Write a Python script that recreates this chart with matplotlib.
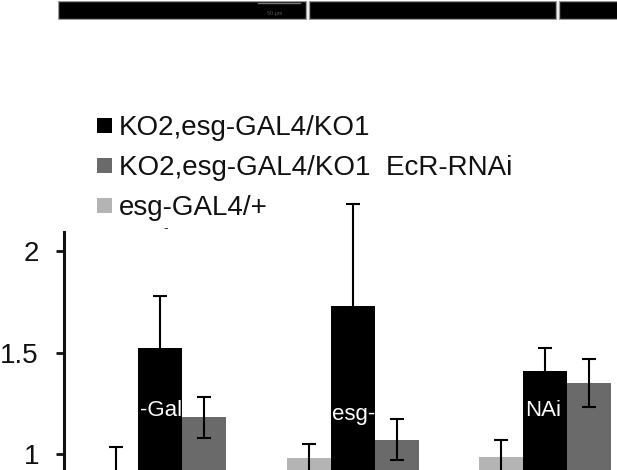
import numpy as np
import matplotlib
matplotlib.use("Agg")
import matplotlib.pyplot as plt
from matplotlib.patches import Rectangle

plt.rcParams["font.family"] = ["Liberation Sans", "DejaVu Sans"]

# ---------------------------------------------------------------------------
# Data
# ---------------------------------------------------------------------------
series_labels = ["KO2,esg-GAL4/KO1", "KO2,esg-GAL4/KO1  EcR-RNAi", "esg-GAL4/+"]
series_colors = ["#000000", "#6a6a6a", "#b4b4b4"]

# groups left -> right; light bar of the first group sits below the visible area
light_vals = [0.90, 0.98, 0.985]
light_err = [0.135, 0.07, 0.085]
black_vals = [1.52, 1.73, 1.41]
black_err = [0.26, 0.50, 0.11]
gray_vals = [1.18, 1.07, 1.35]
gray_err = [0.10, 0.10, 0.12]

overlay_text = ["-Gal", "esg-", "NAi"]
yticks = [1, 1.5, 2]
ytick_labels = ["1", "1.5", "2"]

W, H = 617, 470
fig = plt.figure(figsize=(W / 100, H / 100), dpi=100)

# ---------------------------------------------------------------------------
# Strip of image panels at the top (bottom edge of micrographs)
# ---------------------------------------------------------------------------
strip = fig.add_axes([58 / W, 1 - 20 / H, (W - 58) / W, 19 / H])
strip.set_xlim(58, W)
strip.set_ylim(0, 19)
strip.axis("off")
for x0, x1 in [(58, 306), (309, 556), (559, 640)]:
    strip.add_patch(Rectangle((x0, 1), x1 - x0, 18, facecolor="black",
                              edgecolor="#9a9a9a", linewidth=1))
strip.text(275, 7, "50 µm", color="#555555", fontsize=4, ha="center", va="center")
strip.plot([258, 300], [17, 17], color="#777777", linewidth=1)

# ---------------------------------------------------------------------------
# Bar chart
# ---------------------------------------------------------------------------
top_px, axis_x = 232, 64
ax = fig.add_axes([axis_x / W, 0, (W - axis_x) / W, (H - top_px) / H])
ax.patch.set_alpha(0)

px_per_unit = 203.0
y_at_1 = 454
ax.set_ylim(1 - (H - y_at_1) / px_per_unit, 1 + (y_at_1 - top_px) / px_per_unit)

spacing = 192.5
centers_px = [160, 352.5, 545]
x = np.arange(len(black_vals))
ax.set_xlim((axis_x - centers_px[0]) / spacing, (W - centers_px[0]) / spacing)
width = 44 / spacing

err_kw = dict(ecolor="#000000", elinewidth=1.5, capsize=5, capthick=1.5)
containers = [
    ax.bar(x - width, light_vals, width, color=series_colors[2], yerr=light_err,
           error_kw=err_kw, zorder=2),
    ax.bar(x, black_vals, width, color=series_colors[0], yerr=black_err,
           error_kw=err_kw, zorder=2),
    ax.bar(x + width, gray_vals, width, color=series_colors[1], yerr=gray_err,
           error_kw=err_kw, zorder=2),
]
# error bars run past the top of the axis in the original
for bc in containers:
    data_line, caplines, barcols = bc.errorbar.lines
    for art in list(caplines) + list(barcols):
        art.set_clip_on(False)

# white fragments of text that show up only over the dark bars
for i, txt in enumerate(overlay_text):
    ax.text(x[i] - width / 2 + 0.01, 1.215 if i != 1 else 1.195, txt,
            color="white", fontsize=16, ha="left", va="center", zorder=3)

for side in ["top", "right", "bottom"]:
    ax.spines[side].set_visible(False)
ax.spines["left"].set_linewidth(2.2)
ax.spines["left"].set_color("#111111")
ax.set_yticks(yticks)
ax.set_yticklabels(ytick_labels)
ax.tick_params(axis="y", length=6, width=2, pad=12, labelsize=20,
               colors="#111111", direction="out")
ax.set_xticks([])

# ---------------------------------------------------------------------------
# Legend, drawn by hand as in the original figure
# ---------------------------------------------------------------------------
baselines = [135, 175, 215]
for label, color, yb in zip(series_labels, series_colors, baselines):
    fig.patches.append(Rectangle((97 / W, 1 - (yb - 2) / H), 15 / W, 15 / H,
                                 transform=fig.transFigure, facecolor=color,
                                 edgecolor="none"))
    fig.text(119 / W, 1 - yb / H, label, fontsize=20, color="#111111",
             ha="left", va="baseline")
fig.text(166 / W, 1 - 228 / H, "-", fontsize=10, color="#333333",
         ha="center", va="center")

fig.savefig("out.png", dpi=100)
